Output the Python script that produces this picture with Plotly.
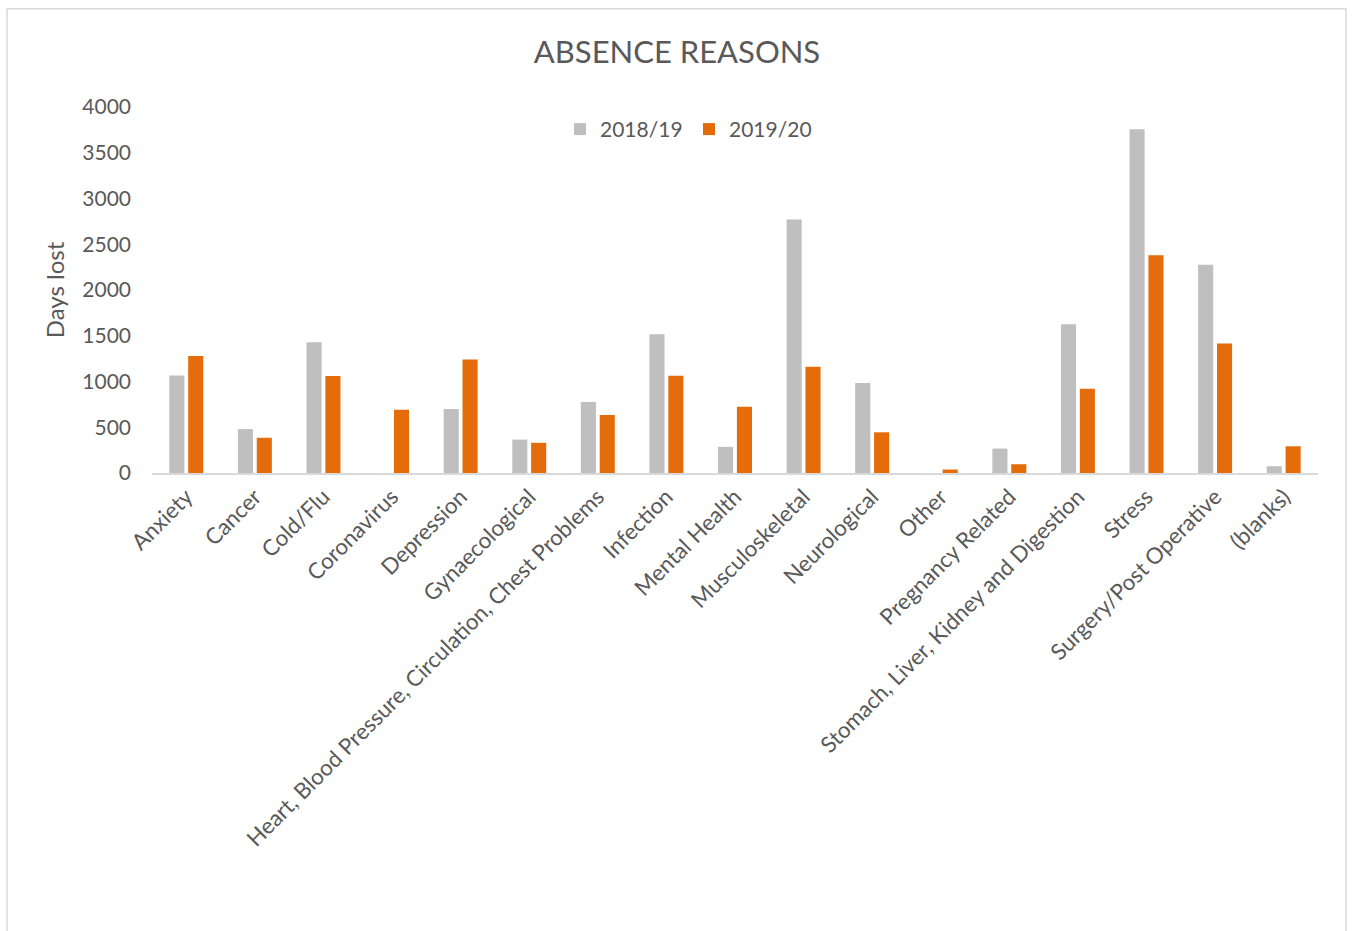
import plotly.graph_objects as go

# Absence reasons: days lost per reason, two financial years
categories = [
    "Anxiety", "Cancer", "Cold/Flu", "Coronavirus", "Depression",
    "Gynaecological", "Heart, Blood Pressure, Circulation, Chest Problems",
    "Infection", "Mental Health", "Musculoskeletal", "Neurological", "Other",
    "Pregnancy Related", "Stomach, Liver, Kidney and Digestion", "Stress",
    "Surgery/Post Operative", "(blanks)",
]
days_2018_19 = [1065, 480, 1430, 0, 700, 365, 776, 1517, 285, 2770, 983, 0,
                267, 1626, 3758, 2276, 74]
days_2019_20 = [1280, 385, 1060, 690, 1240, 330, 634, 1063, 725, 1161, 445, 38,
                96, 921, 2381, 1415, 292]
y_ticks = [0, 500, 1000, 1500, 2000, 2500, 3000, 3500, 4000]

W, H = 1354, 931
L, R, T, B = 152, 36, 106.5, 457.5
FONT = "Lato, 'Open Sans', sans-serif"
TXT = "#595959"

fig = go.Figure()
fig.add_trace(go.Bar(name="2018/19", x=categories, y=days_2018_19,
                     marker=dict(color="#BFBFBF", line=dict(width=0))))
fig.add_trace(go.Bar(name="2019/20", x=categories, y=days_2019_20,
                     marker=dict(color="#E46C0A", line=dict(width=0))))

pw, ph = W - L - R, H - T - B


def px_x(x):
    return (x - L) / pw


def px_y(y):
    return (H - B - y) / ph


fig.update_layout(
    width=W, height=H,
    margin=dict(l=L, r=R, t=T, b=B, autoexpand=False),
    paper_bgcolor="white", plot_bgcolor="white",
    font=dict(family=FONT, color=TXT),
    barmode="group", bargap=0.45, bargroupgap=0.2,
    title=dict(text="ABSENCE REASONS", x=0.5, xanchor="center",
               xref="container", yref="container", y=1 - 52 / H,
               yanchor="middle", font=dict(size=31, color=TXT, family=FONT)),
    legend=dict(orientation="h", x=px_x(560), xanchor="left",
                y=px_y(129), yanchor="middle",
                font=dict(size=21, color=TXT, family=FONT),
                bgcolor="rgba(0,0,0,0)", itemwidth=30,
                entrywidth=84, entrywidthmode="pixels"),
    showlegend=True,
    shapes=[dict(type="rect", xref="paper", yref="paper",
                 x0=px_x(7), x1=px_x(1346), y0=px_y(940), y1=px_y(8),
                 line=dict(color="#D9D9D9", width=1.5),
                 fillcolor="rgba(0,0,0,0)", layer="below")],
)

fig.update_xaxes(
    type="category", range=[-0.5, len(categories) - 0.5],
    showline=True, linecolor="#D9D9D9", linewidth=2,
    showgrid=False, ticks="", tickangle=-45,
    tickfont=dict(size=22.3, color=TXT, family=FONT),
    automargin=False,
)
fig.update_yaxes(
    range=[0, 4000], tickvals=y_ticks,
    showline=False, showgrid=False, zeroline=False, ticks="",
    ticklabelstandoff=20,
    tickfont=dict(size=21, color=TXT, family=FONT),
    title=dict(text="Days lost", standoff=10,
               font=dict(size=24, color=TXT, family=FONT)),
    automargin=False,
)

fig.write_html("out.html")
